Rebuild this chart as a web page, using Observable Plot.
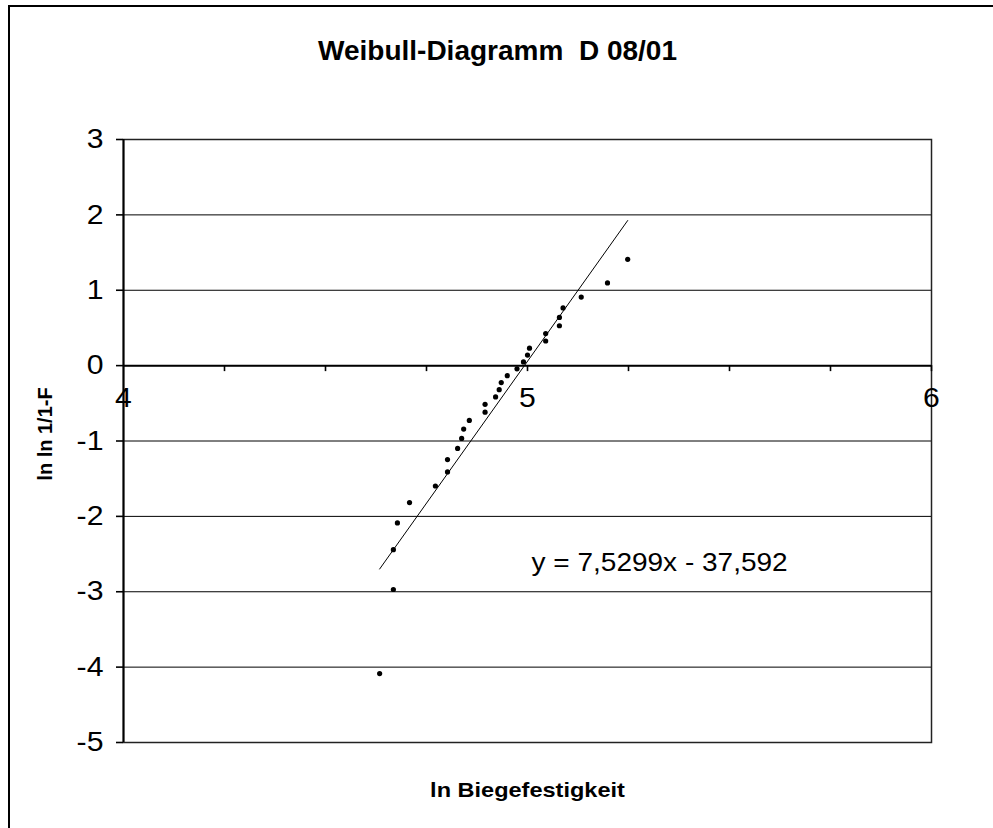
<!DOCTYPE html>
<html><head><meta charset="utf-8">
<script src="https://cdn.jsdelivr.net/npm/d3@7"></script>
<script src="https://cdn.jsdelivr.net/npm/@observablehq/plot@0.6"></script>
<style>
html,body{margin:0;padding:0;background:#fff;}
#wrap{position:relative;width:993px;height:828px;overflow:hidden;}
#border{position:absolute;left:8px;top:5px;width:1000px;height:1000px;border:2px solid #000;box-sizing:border-box;}
#chart{position:absolute;left:0;top:0;}
#chart svg text{white-space:pre;}
</style></head><body>
<div id="wrap"><div id="border"></div><div id="chart"></div></div>
<script>
// ln(Biegefestigkeit) per specimen, sorted
const lnStrength = [4.634, 4.668, 4.668, 4.678, 4.708, 4.772, 4.802, 4.802, 4.827, 4.837,
  4.842, 4.856, 4.895, 4.895, 4.921, 4.930, 4.935, 4.950, 4.974, 4.990,
  5.000, 5.005, 5.045, 5.045, 5.079, 5.079, 5.088, 5.133, 5.198, 5.248];
// ln ln 1/(1-F)
const lnlnF = [-4.086, -2.970, -2.442, -2.087, -1.817, -1.597, -1.410, -1.246, -1.099, -0.966,
  -0.842, -0.727, -0.618, -0.514, -0.415, -0.319, -0.225, -0.133, -0.042, 0.049,
  0.140, 0.232, 0.327, 0.425, 0.529, 0.640, 0.765, 0.910, 1.097, 1.410];
const slope = 7.5299;
const intercept = -37.592;
const equationLabel = "y = 7,5299x - 37,592";
const equationAt = [5.01, -2.62];
const yTicks = [-5, -4, -3, -2, -1, 0, 1, 2, 3];
const xMajor = [4, 5, 6];
const xMinor = [4.25, 4.5, 4.75, 5, 5.25, 5.5, 5.75, 6];
const title = "Weibull-Diagramm  D 08/01";
const xLabel = "ln Biegefestigkeit";
const yLabel = "ln ln 1/1-F";

const points = lnStrength.map((x, i) => ({x, y: lnlnF[i]}));
const ext = d3.extent(lnStrength);
const trend = ext.map(x => ({x, y: slope * x + intercept}));

const chart = Plot.plot({
  width: 993,
  height: 828,
  marginLeft: 123,
  marginRight: 62,
  marginTop: 139,
  marginBottom: 86,
  style: {fontFamily: "'Liberation Sans', Arial, sans-serif", background: "transparent", color: "#000"},
  x: {domain: [4, 6], axis: null},
  y: {domain: [-5, 3], axis: null},
  marks: [
    Plot.ruleY(yTicks, {stroke: "#000", strokeWidth: 1}),
    Plot.frame({stroke: "#222", strokeWidth: 1.5}),
    Plot.ruleY([0], {stroke: "#000", strokeWidth: 2}),
    Plot.ruleX([4], {stroke: "#000", strokeWidth: 2}),
    Plot.ruleX(xMinor, {x: d => d, y1: 0, y2: 0, insetBottom: -6, stroke: "#000", strokeWidth: 1.6}),
    Plot.ruleY(yTicks, {y: d => d, x1: 4, x2: 4, insetLeft: -7, stroke: "#000", strokeWidth: 1.6}),
    Plot.text(yTicks, {x: 4, y: d => d, text: d => String(d), textAnchor: "end", dx: -20, fontSize: 27}),
    Plot.text(xMajor, {x: d => d, y: 0, text: d => String(d), dy: 33, fontSize: 27}),
    Plot.line(trend, {x: "x", y: "y", stroke: "#000", strokeWidth: 1}),
    Plot.dot(points, {x: "x", y: "y", r: 2.6, fill: "#000", stroke: "none"}),
    Plot.text([equationLabel], {x: equationAt[0], y: equationAt[1], text: d => d, textAnchor: "start", fontSize: 25}),
    Plot.text([title], {frameAnchor: "top", textAnchor: "middle", lineAnchor: "middle", text: d => d, dx: -30, dy: -88, fontSize: 28, fontWeight: "bold", className: "nostretch"}),
    Plot.text([xLabel], {frameAnchor: "bottom", textAnchor: "middle", lineAnchor: "middle", text: d => d, dy: 48, fontSize: 21, fontWeight: "bold"}),
    Plot.text([yLabel], {frameAnchor: "left", textAnchor: "middle", lineAnchor: "middle", text: d => d, dx: -78, dy: -7, rotate: -90, fontSize: 20, fontWeight: "bold"})
  ]
});
document.getElementById("chart").appendChild(chart);

// horizontal stretch of the original rendering (not for the title or the rotated label)
chart.querySelectorAll("text").forEach(t => {
  const tr = (t.getAttribute("transform") || "") + (t.parentNode.getAttribute("transform") || "");
  if (tr.includes("rotate")) return;
  if (t.textContent === title) return;
  const len = t.getComputedTextLength();
  if (len > 0) {
    t.setAttribute("textLength", (len * 1.12).toFixed(1));
    t.setAttribute("lengthAdjust", "spacingAndGlyphs");
  }
});
</script>
</body></html>
